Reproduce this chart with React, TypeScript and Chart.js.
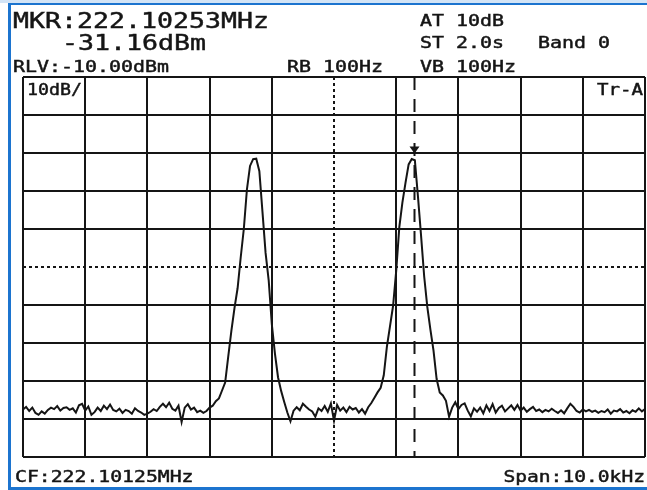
import React, { useEffect, useRef } from "react";
import { Chart, registerables } from "chart.js";

Chart.register(...registerables);

// Frequency offset (Hz) from the left edge (222.09625 MHz), span 10 kHz
const SPAN_HZ = 10000;
const STEP_HZ = 50;
const DIV_HZ = 1000;
const CENTER_HZ = 5000;

// Level axis (dBm): RLV -10 dBm, 10 dB/div
const REF_LEVEL = -10;
const BOTTOM_LEVEL = -110;
const DB_PER_DIV = 10;
const CENTER_LEVEL = -60;

// Trace A, sampled every 50 Hz (dBm)
const traceDbm = [
  -97.5, -96.8, -97.9, -97.0, -98.4, -98.9, -98.0, -98.6, -97.6, -97.0,
  -97.4, -96.6, -97.8, -97.1, -96.9, -97.6, -97.2, -98.3, -96.4, -96.0,
  -97.8, -96.7, -98.9, -98.2, -97.0, -97.9, -96.5, -97.4, -96.2, -97.6,
  -98.0, -97.3, -98.4, -97.6, -97.9, -98.6, -97.2, -97.9, -98.3, -98.9,
  -98.6, -98.1, -97.4, -97.9, -96.8, -96.0, -96.9, -95.7, -97.3, -97.8,
  -96.5, -100.8, -97.0, -96.1, -97.5, -97.0, -98.2, -97.8, -98.4, -97.9,
  -97.0, -96.5, -95.3, -94.6, -92.5, -90.4, -83.5, -76.8, -70.8, -65.6,
  -57.5, -50.0, -39.6, -33.4, -31.6, -31.5, -34.8, -45.5, -56.3, -63.5,
  -75.0, -82.7, -89.0, -92.6, -95.5, -98.3, -100.6, -97.8, -96.9, -97.7,
  -96.0, -96.8, -97.5, -98.0, -99.4, -97.2, -97.9, -96.6, -98.1, -95.9,
  -100.5, -96.3, -97.8, -97.0, -98.2, -96.8, -97.5, -97.1, -98.3, -97.4,
  -98.6, -96.9, -95.8, -94.4, -93.0, -91.8, -88.5, -81.0, -75.6, -70.2,
  -61.0, -49.5, -43.0, -37.8, -33.0, -31.6, -31.9, -41.5, -51.8, -62.5,
  -70.5, -76.5, -82.0, -89.5, -93.0, -93.8, -95.2, -99.4, -97.0, -95.6,
  -97.4, -96.3, -95.9, -97.8, -99.3, -97.2, -98.1, -97.0, -98.5, -96.4,
  -97.9, -96.1, -98.3, -97.1, -96.5, -98.0, -97.2, -96.4, -97.6, -96.3,
  -97.8, -97.0, -98.1, -97.4, -96.8, -97.9, -97.5, -98.2, -97.6, -98.0,
  -97.3, -97.9, -98.4, -97.7, -98.5, -97.2, -96.0, -96.8, -97.9, -98.3,
  -97.5, -98.0, -97.6, -98.1, -97.8, -98.4, -97.9, -98.2, -97.5, -98.6,
  -97.8, -98.0, -97.4, -98.3, -97.9, -98.5, -97.7, -98.1, -97.2, -98.0,
  -97.4,
];

// Marker
const MARKER_HZ = 6280;
const MARKER_DBM = -31.16;

// Screen texts
const mkrFreqText = "MKR:222.10253MHz";
const mkrLevelText = "-31.16dBm";
const rlvText = "RLV:-10.00dBm";
const rbwText = "RB 100Hz";
const attText = "AT 10dB";
const sweepText = "ST 2.0s";
const bandText = "Band 0";
const vbwText = "VB 100Hz";
const scaleText = "10dB/";
const traceText = "Tr-A";
const cfText = "CF:222.10125MHz";
const spanText = "Span:10.0kHz";

const FONT = '"DejaVu Sans Mono", "Liberation Mono", monospace';
const INK = "#151515";

function drawText(
  ctx: CanvasRenderingContext2D,
  s: string,
  x: number,
  y: number,
  size: number,
  advance: number,
  align: "left" | "right" = "left"
) {
  ctx.save();
  ctx.font = `${size}px ${FONT}`;
  const natural = ctx.measureText(s).width / s.length;
  const sx = advance / natural;
  const w = ctx.measureText(s).width * sx;
  const x0 = align === "right" ? x - w : x;
  ctx.translate(x0, y);
  ctx.scale(sx, 1);
  ctx.fillStyle = INK;
  ctx.strokeStyle = INK;
  ctx.lineWidth = 0.45;
  ctx.textBaseline = "alphabetic";
  ctx.textAlign = "left";
  ctx.fillText(s, 0, 0);
  ctx.strokeText(s, 0, 0);
  ctx.restore();
}

const overlayPlugin = {
  id: "overlay",
  beforeDraw(chart: any) {
    const { ctx, width, height } = chart;
    ctx.save();
    ctx.fillStyle = "#ffffff";
    ctx.fillRect(0, 0, width, height);
    ctx.restore();
  },
  afterDatasetsDraw(chart: any) {
    const { ctx, chartArea } = chart;
    const xs = chart.scales.x;
    const ys = chart.scales.y;
    const mx = Math.round(xs.getPixelForValue(MARKER_HZ)) + 0.5;
    ctx.save();
    ctx.strokeStyle = INK;
    ctx.lineWidth = 2;
    ctx.setLineDash([13, 9]);
    ctx.beginPath();
    ctx.moveTo(mx, chartArea.top);
    ctx.lineTo(mx, chartArea.bottom);
    ctx.stroke();
    ctx.setLineDash([]);
    const tipY = ys.getPixelForValue(MARKER_DBM) - 4;
    ctx.fillStyle = INK;
    ctx.beginPath();
    ctx.moveTo(mx - 5, tipY - 7);
    ctx.lineTo(mx + 5, tipY - 7);
    ctx.lineTo(mx, tipY);
    ctx.closePath();
    ctx.fill();
    ctx.restore();
  },
  afterDraw(chart: any) {
    const { ctx, width, height, chartArea } = chart;
    // window frame
    ctx.save();
    ctx.fillStyle = "#d3e4f6";
    ctx.fillRect(0, 0, width, 3);
    ctx.fillStyle = "#1c74cf";
    ctx.fillRect(8, 3, width - 8, 2);
    ctx.fillRect(8, 3, 3, height - 3);
    ctx.fillRect(8, height - 3, width - 8, 3);
    ctx.restore();

    drawText(ctx, mkrFreqText, 13, 28, 21, 16);
    drawText(ctx, mkrLevelText, 62, 50, 21, 16);
    drawText(ctx, rlvText, 13, 72, 15, 12);
    drawText(ctx, rbwText, 287, 72, 15, 12);
    drawText(ctx, attText, 420, 26, 15, 12);
    drawText(ctx, sweepText, 420, 48, 15, 12);
    drawText(ctx, bandText, 538, 48, 15, 12);
    drawText(ctx, vbwText, 420, 72, 15, 12);
    drawText(ctx, scaleText, chartArea.left + 4, chartArea.top + 18, 15, 11);
    drawText(ctx, traceText, chartArea.right - 2, chartArea.top + 18, 15, 11.5, "right");
    drawText(ctx, cfText, 15, 482, 15, 11.9);
    drawText(ctx, spanText, 645, 482, 15, 11.8, "right");
  },
};

export default function App() {
  const canvasRef = useRef<HTMLCanvasElement | null>(null);

  useEffect(() => {
    document.body.style.margin = "0";
    const canvas = canvasRef.current;
    if (!canvas) return;
    const data = traceDbm.map((y, i) => ({ x: i * STEP_HZ, y }));
    const chart = new Chart(canvas, {
      type: "line",
      data: {
        datasets: [
          {
            label: "Tr-A",
            data,
            borderColor: INK,
            borderWidth: 2,
            pointRadius: 0,
            tension: 0,
            fill: false,
          },
        ],
      },
      options: {
        responsive: false,
        animation: false,
        events: [],
        layout: { padding: { left: 23, right: 2, top: 77, bottom: 33 } },
        plugins: {
          legend: { display: false },
          tooltip: { enabled: false },
          title: { display: false },
        },
        scales: {
          x: {
            type: "linear",
            min: 0,
            max: SPAN_HZ,
            ticks: { display: false, stepSize: DIV_HZ },
            grid: { color: INK, lineWidth: 2, drawTicks: false },
            border: {
              display: false,
              dash: (c: any) => (c.tick && c.tick.value === CENTER_HZ ? [3, 3] : []),
            },
          },
          y: {
            type: "linear",
            min: BOTTOM_LEVEL,
            max: REF_LEVEL,
            ticks: { display: false, stepSize: DB_PER_DIV },
            grid: { color: INK, lineWidth: 2, drawTicks: false },
            border: {
              display: false,
              dash: (c: any) => (c.tick && c.tick.value === CENTER_LEVEL ? [3, 3] : []),
            },
          },
        },
      },
      plugins: [overlayPlugin],
    });
    return () => chart.destroy();
  }, []);

  return (
    <div style={{ width: 647, height: 490 }}>
      <canvas ref={canvasRef} width={647} height={490} style={{ display: "block" }} />
    </div>
  );
}
